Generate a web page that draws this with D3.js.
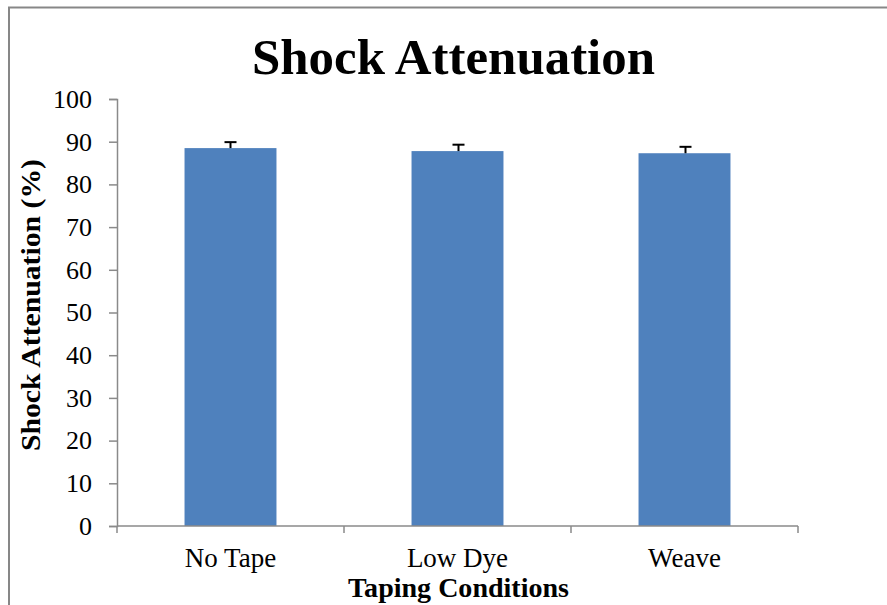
<!DOCTYPE html>
<html>
<head>
<meta charset="utf-8">
<script src="https://cdn.jsdelivr.net/npm/d3@7"></script>
<style>
  html, body { margin: 0; padding: 0; background: #ffffff; }
  svg { display: block; }
  text { font-family: "Liberation Serif", "DejaVu Serif", serif; fill: #000; }
</style>
</head>
<body>
<svg id="chart" width="887" height="605"></svg>
<script>
const categories = ["No Tape", "Low Dye", "Weave"];
const values = [88.5, 87.8, 87.3];
const errors = [1.4, 1.5, 1.5];
const yTicks = [0, 10, 20, 30, 40, 50, 60, 70, 80, 90, 100];
const chartTitle = "Shock Attenuation";
const xTitle = "Taping Conditions";
const yTitle = "Shock Attenuation (%)";

const svg = d3.select("#chart");
const W = 887, H = 605;
const m = { left: 117, right: 89, top: 99, bottom: 79 };
const axisColor = "#8a8a8a";

// outer frame (extends past window right/bottom)
svg.append("rect")
  .attr("x", 9).attr("y", 7.5)
  .attr("width", 1000).attr("height", 1000)
  .attr("fill", "none").attr("stroke", "#878787").attr("stroke-width", 2);

const x = d3.scaleBand()
  .domain(categories)
  .range([m.left, W - m.right])
  .paddingInner(0.595)
  .paddingOuter(0.2975);

const y = d3.scaleLinear().domain([0, 100]).range([H - m.bottom, m.top]);

// bars
svg.append("g").selectAll("rect")
  .data(categories)
  .join("rect")
  .attr("x", d => x(d))
  .attr("y", (d, i) => y(values[i]))
  .attr("width", x.bandwidth())
  .attr("height", (d, i) => y(0) - y(values[i]))
  .attr("fill", "#4F81BD");

// error bars (upper only)
const eb = svg.append("g").attr("stroke", "#000").attr("stroke-width", 2);
categories.forEach((c, i) => {
  const cx = Math.round(x(c) + x.bandwidth() / 2) + 0.5;
  eb.append("line")
    .attr("x1", cx).attr("x2", cx)
    .attr("y1", y(values[i])).attr("y2", y(values[i] + errors[i]));
  eb.append("line")
    .attr("x1", cx - 6).attr("x2", cx + 6)
    .attr("y1", y(values[i] + errors[i])).attr("y2", y(values[i] + errors[i]));
});

// y axis
const yAxis = svg.append("g")
  .attr("transform", `translate(${m.left},0)`)
  .call(d3.axisLeft(y).tickValues(yTicks).tickSize(8).tickPadding(17).tickFormat(d3.format("d")));
yAxis.selectAll("path, line").attr("stroke", axisColor).attr("stroke-width", 1.5);
yAxis.selectAll("text")
  .style("font-family", '"Liberation Serif", serif')
  .style("font-size", "26px")
  .attr("fill", "#000");

// x axis line + ticks at band boundaries
const xa = svg.append("g").attr("stroke", axisColor).attr("stroke-width", 1.5);
const x0 = m.left, x1 = W - m.right, yb = y(0);
xa.append("line").attr("x1", x0).attr("x2", x1).attr("y1", yb).attr("y2", yb);
const bounds = d3.range(categories.length + 1).map(i => x0 + i * (x1 - x0) / categories.length);
xa.selectAll(".tk").data(bounds).join("line")
  .attr("x1", d => d).attr("x2", d => d)
  .attr("y1", yb).attr("y2", yb + 7);

// category labels
svg.append("g").selectAll("text")
  .data(categories)
  .join("text")
  .attr("x", d => x(d) + x.bandwidth() / 2)
  .attr("y", 567)
  .attr("text-anchor", "middle")
  .style("font-size", "27px")
  .text(d => d);

// titles
svg.append("text")
  .attr("x", 453.5).attr("y", 74)
  .attr("text-anchor", "middle")
  .style("font-size", "50px").style("font-weight", "bold")
  .attr("textLength", 403).attr("lengthAdjust", "spacingAndGlyphs")
  .text(chartTitle);

svg.append("text")
  .attr("x", 458.5).attr("y", 597)
  .attr("text-anchor", "middle")
  .style("font-size", "27px").style("font-weight", "bold")
  .attr("textLength", 221).attr("lengthAdjust", "spacingAndGlyphs")
  .text(xTitle);

svg.append("text")
  .attr("transform", "translate(40,305) rotate(-90)")
  .attr("text-anchor", "middle")
  .style("font-size", "27px").style("font-weight", "bold")
  .attr("textLength", 292).attr("lengthAdjust", "spacingAndGlyphs")
  .text(yTitle);
</script>
</body>
</html>
